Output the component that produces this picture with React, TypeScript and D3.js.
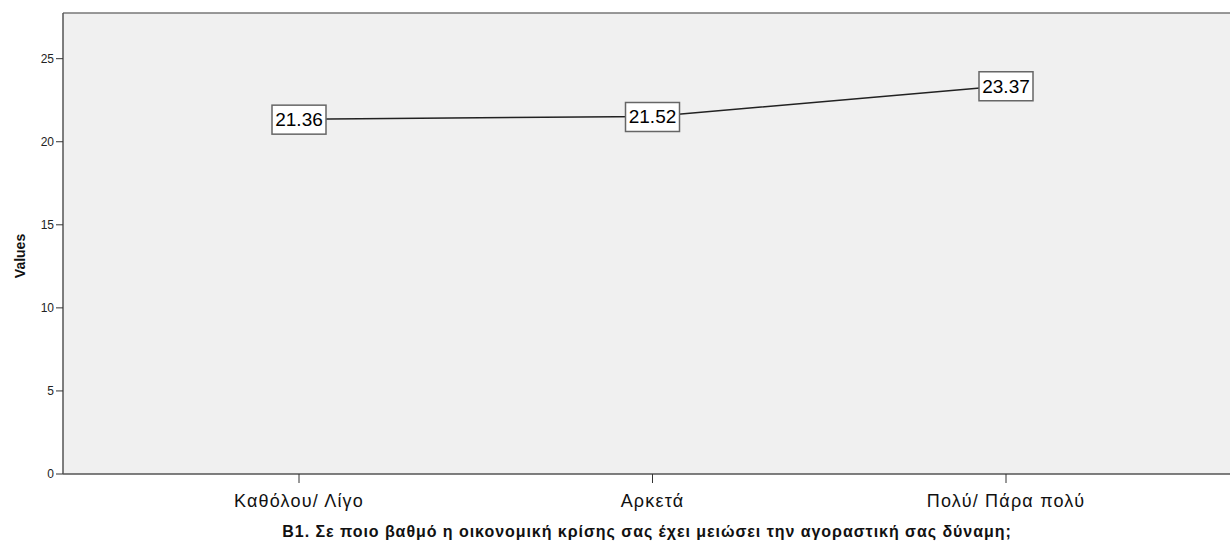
import React from "react";
import * as d3 from "d3";

const categories = ["Καθόλου/ Λίγο", "Αρκετά", "Πολύ/ Πάρα πολύ"];
const values = [21.36, 21.52, 23.37];
const yTicks = [0, 5, 10, 15, 20, 25];
const xTitle = "B1. Σε ποιο βαθμό η οικονομική κρίσης σας έχει μειώσει την αγοραστική σας δύναμη;";
const yTitle = "Values";

const W = 1230;
const H = 541;
const left = 63;
const top = 13;
const bottom = 474;
const font = "'Liberation Sans', Arial, sans-serif";

export default function App() {
  const x = d3.scalePoint<string>().domain(categories).range([299, 1006]);
  const y = d3.scaleLinear().domain([0, 27.75]).range([bottom, top]);
  const line = d3
    .line<number>()
    .x((_, i) => x(categories[i]) as number)
    .y((d) => y(d));

  return (
    <svg
      width={W}
      height={H}
      style={{ position: "absolute", left: 0, top: 0, display: "block" }}
      fontFamily={font}
    >
      <rect x={0} y={0} width={W} height={H} fill="#ffffff" />
      <rect x={left} y={top} width={W - left} height={bottom - top} fill="#f0f0f0" />
      <line x1={left} x2={W} y1={top} y2={top} stroke="#777" strokeWidth={1.5} />
      <line x1={left} x2={W} y1={bottom} y2={bottom} stroke="#555" strokeWidth={1.5} />
      <line x1={left} x2={left} y1={top} y2={bottom} stroke="#555" strokeWidth={1.5} />
      {yTicks.map((t) => (
        <g key={t}>
          <line x1={56} x2={left} y1={y(t)} y2={y(t)} stroke="#333" strokeWidth={1} />
          <text x={54} y={y(t)} dy="0.35em" textAnchor="end" fontSize={12} fill="#222">
            {t}
          </text>
        </g>
      ))}
      {categories.map((c) => (
        <g key={c}>
          <line x1={x(c)} x2={x(c)} y1={bottom} y2={bottom + 9} stroke="#333" strokeWidth={1} />
          <text x={x(c)} y={507} textAnchor="middle" fontSize={18} letterSpacing={1.2} fill="#111">
            {c}
          </text>
        </g>
      ))}
      <text
        transform={`translate(25, 256) rotate(-90)`}
        textAnchor="middle"
        fontSize={14}
        fontWeight="bold"
        fill="#111"
      >
        {yTitle}
      </text>
      <text x={647} y={537} textAnchor="middle" fontSize={16} letterSpacing={0.95} fontWeight="bold" fill="#111">
        {xTitle}
      </text>
      <path d={line(values) || ""} fill="none" stroke="#222" strokeWidth={1.5} />
      {values.map((v, i) => {
        const cx = x(categories[i]) as number;
        const cy = y(v);
        return (
          <g key={i}>
            <rect x={cx - 27} y={cy - 14} width={54} height={29} fill="#fff" stroke="#666" strokeWidth={1.5} />
            <text x={cx} y={cy} dy="0.36em" textAnchor="middle" fontSize={19} fill="#000">
              {v.toFixed(2)}
            </text>
          </g>
        );
      })}
    </svg>
  );
}
